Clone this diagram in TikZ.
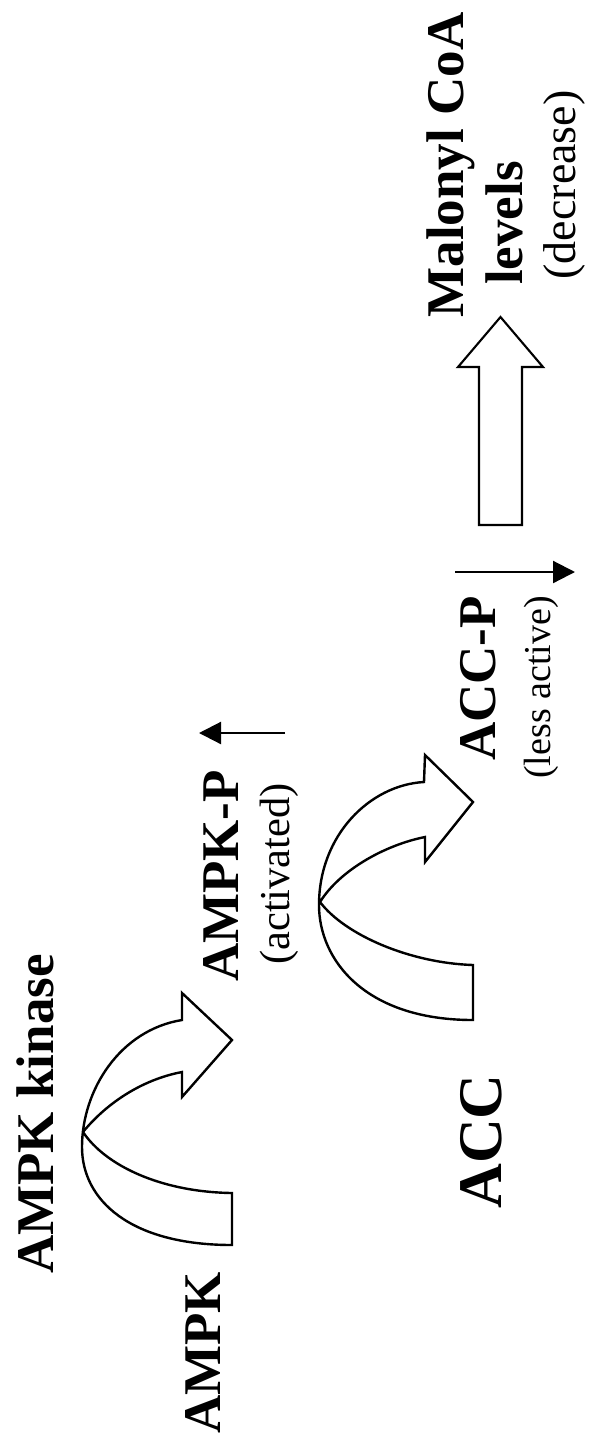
\documentclass[tikz,border=0pt]{standalone}
\usepackage{fontspec}
\setmainfont{Liberation Serif}
\usetikzlibrary{arrows.meta}
\begin{document}
\begin{tikzpicture}[x=1pt,y=-1pt,
  lbl/.style={rotate=90, anchor=base, inner sep=0pt,
              font=\bfseries\fontsize{53}{60}\selectfont},
  note/.style={rotate=90, anchor=base, inner sep=0pt},
  block/.style={draw=black, fill=white, line width=2.4pt, line join=miter},
  trend/.style={line width=2.2pt, -{Triangle[length=22pt,width=22pt]}}
]
\useasboundingbox (0,0) rectangle (589,1441);

% labels (the whole scheme reads bottom to top)
\node[lbl] (kinase) at (53,1114) {AMPK kinase};
\node[lbl] (ampk) at (220,1353) {AMPK};
\node[lbl] (ampkp) at (238,876) {AMPK-P};
\node[note, font=\fontsize{42.5}{48}\selectfont] (act) at (289.5,874) {(activated)};
\node[lbl, font=\bfseries\fontsize{62}{70}\selectfont] (acc) at (501,1141.5) {ACC};
\node[lbl] (accp) at (495,678.5) {ACC-P};
\node[note, font=\fontsize{38}{44}\selectfont] (less) at (550,687.5) {(less active)};
\node[lbl] (malonyl) at (463,165) {Malonyl CoA};
\node[lbl] (levels) at (522,223) {levels};
\node[note, font=\fontsize{46}{52}\selectfont] (decr) at (575,185) {(decrease)};

% curved block arrow: AMPK -> AMPK-P
\draw[block]
  (232,1245) .. controls (130,1245) and (82,1200) .. (82,1147)
  .. controls (82,1090) and (120,1030) .. (182,1020)
  -- (182,993) -- (232,1040) -- (182,1097) -- (182,1072)
  .. controls (140,1080) and (105,1105) .. (83,1132)
  .. controls (105,1165) and (160,1192) .. (232,1193)
  -- cycle;

% curved block arrow: ACC -> ACC-P
\draw[block]
  (473,1020) .. controls (365,1020) and (319,960) .. (319,905)
  .. controls (319,835) and (370,785) .. (424,782)
  -- (425,755) -- (473,802) -- (425,862) -- (425,837)
  .. controls (385,845) and (340,870) .. (320,902)
  .. controls (345,935) and (410,963) .. (473,965)
  -- cycle;

% straight block arrow towards the malonyl CoA level
\draw[block, line width=2.1pt]
  (479,525) -- (479,367) -- (458,367) -- (500.5,317) -- (543,367)
  -- (522,367) -- (522,525) -- cycle;

% trend arrows
\coordinate (upS) at (285,733);
\coordinate (upE) at (199,733);
\draw[trend] (upS) -- (upE);
\coordinate (dnS) at (455,572);
\coordinate (dnE) at (575,572);
\draw[trend] (dnS) -- (dnE);
\end{tikzpicture}
\end{document}
